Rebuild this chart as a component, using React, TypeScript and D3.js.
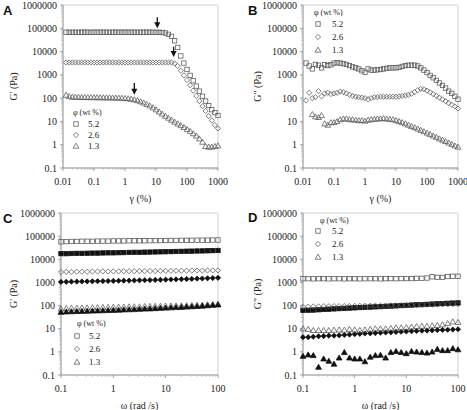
import React from 'react';
import * as d3 from 'd3';

const STRAIN = [0.0126,0.0158,0.02,0.0251,0.0316,0.0398,0.0501,0.0631,0.0794,
  0.1,0.126,0.158,0.2,0.251,0.316,0.398,0.501,0.631,0.794,
  1,1.26,1.58,2,2.51,3.16,3.98,5.01,6.31,7.94,
  10,12.6,15.8,20,25.1,31.6,39.8,50.1,63.1,79.4,
  100,126,158,200,251,316,398,501,631,794,1000];

const FREQ = [0.1,0.126,0.158,0.2,0.251,0.316,0.398,0.501,0.631,0.794,
  1,1.26,1.58,2,2.51,3.16,3.98,5.01,6.31,7.94,
  10,12.6,15.8,20,25.1,31.6,39.8,50.1,63.1,79.4,100];

// Panel A: G' vs strain
const A_52 = [68000,67000,68000,68000,67000,68000,68000,68000,67000,
  68000,68000,68000,68000,68000,67000,68000,68000,68000,68000,
  68000,68000,68000,68000,68000,68000,68000,68000,68000,68000,
  67000,67000,66000,63000,55000,45000,29000,15000,6500,3200,
  1700,950,560,330,200,120,75,48,32,24,18];
const A_26 = [3400,3400,3400,3400,3400,3400,3400,3400,3400,
  3400,3400,3400,3400,3400,3400,3400,3400,3400,3400,
  3400,3400,3400,3400,3400,3400,3400,3400,3400,3400,
  3400,3400,3400,3400,3400,3400,3100,2400,1500,950,
  600,360,210,125,75,45,28,17,11,7,5];
const A_13 = [135,118,112,110,110,108,108,107,107,
  106,106,105,105,104,104,103,102,101,100,
  98,95,91,86,79,71,63,55,47,39,
  32,26,21,17,14,11.5,9.5,8,6.7,5.6,
  4.6,3.8,3.0,2.4,1.8,1.3,0.85,0.8,0.8,0.85,0.9];
const A_ARROW_X = [11, 37, 2];
const A_ARROW_TOP = [300000, 16000, 450];
const A_ARROW_TIP = [100000, 5800, 140];

// Panel B: G'' vs strain
const B_52 = [3200,2400,1800,2800,2600,2000,2700,2500,2700,
  3200,3300,3200,3000,2800,2500,2200,2000,1800,1500,
  1300,1800,1600,1600,1650,1700,1800,1900,2000,2000,
  2000,2100,2300,2500,2600,2600,2600,2400,2000,1600,
  1250,950,750,580,450,350,270,200,160,120,90];
const B_26 = [80,170,100,110,200,120,160,170,150,
  160,170,190,180,160,140,125,115,110,105,
  100,90,100,110,110,115,115,115,115,115,
  115,120,125,130,140,155,180,220,250,240,
  210,180,150,125,105,88,74,62,52,44,36];
const B_13 = [null,null,20,16,15,18,8,7,9,
  9,10,12,13,13,12,12,11.5,11,11,
  10.5,11.5,12,12.5,13,13,13.5,13,12.5,12,
  11,10,9,8,7,6.2,5.5,4.8,4.2,3.7,
  3.2,2.8,2.4,2.1,1.8,1.6,1.4,1.2,1.05,0.9,0.8];

// Panel C: G' vs frequency
const C_52_OPEN = [57000,58000,59000,59000,60000,60000,60000,61000,61000,61000,
  62000,62000,62000,63000,63000,63000,63000,64000,64000,64000,
  65000,65000,65000,66000,66000,66000,67000,67000,67000,68000,68000];
const C_52_FILL = [17500,17500,17800,18000,18000,18200,18500,18500,18800,19000,
  19000,19300,19500,19800,20000,20000,20300,20500,20800,21000,
  21200,21500,21800,22000,22300,22500,22800,23000,23300,23700,24000];
const C_26_OPEN = [2800,2850,2850,2900,2900,2900,2950,2950,3000,3000,
  3000,3000,3050,3050,3050,3100,3100,3100,3100,3150,
  3150,3150,3200,3200,3200,3250,3250,3250,3300,3300,3300];
const C_26_FILL = [1050,1060,1080,1090,1100,1110,1120,1130,1140,1150,
  1160,1180,1190,1200,1220,1230,1250,1260,1280,1300,
  1320,1340,1360,1380,1400,1420,1450,1480,1510,1540,1580];
const C_13_OPEN = [72,76,78,79,80,80,82,83,84,85,
  86,87,88,89,90,90,92,93,94,95,
  96,97,98,100,101,102,104,106,109,112,115];
const C_13_FILL = [52,54,55,56,57,58,59,60,61,62,
  63,64,66,67,68,70,72,73,75,77,
  79,81,83,85,88,90,93,96,100,104,108];

// Panel D: G'' vs frequency
const D_52_OPEN = [1450,1450,1430,1450,1450,1430,1450,1450,1430,1450,
  1450,1430,1450,1450,1450,1430,1450,1470,1450,1470,
  1470,1470,1500,1500,1550,1750,1650,1650,1800,1850,1850];
const D_52_FILL = [62,63,64,66,68,70,72,74,76,78,
  80,82,84,86,88,90,92,95,97,100,
  102,105,108,110,113,116,119,122,125,128,130];
const D_26_OPEN = [88,90,92,92,94,94,95,95,96,96,
  97,98,98,99,100,100,101,102,103,104,
  105,106,107,108,109,110,111,112,113,114,115];
const D_26_FILL = [4.3,4.3,4.5,4.7,4.8,5,5,5.2,5.4,5.6,
  5.8,6,6.2,6.3,6.5,6.7,6.9,7,7.2,7.4,
  7.6,7.8,8,8.2,8.3,8.5,8.7,8.9,9,9.2,9.5];
const D_13_OPEN = [10,9.5,8.5,8.5,8.5,8.5,8.8,9,8.8,9.5,
  9,8.5,9,9.5,10,10,10,10.5,11,11,
  11.5,12,12.5,13,13,13.5,14,15,17,20,19];
const D_13_FILL = [0.65,0.75,0.7,0.22,0.5,0.4,0.3,0.55,0.95,0.55,
  0.5,0.5,0.38,0.6,0.7,0.72,0.55,0.95,1.05,0.95,
  0.85,1.05,1.0,0.95,0.9,1.0,1.3,1.15,1.15,1.4,1.25];

const Y_TICKS = [0.1,1,10,100,1000,10000,100000,1000000];
const Y_TICK_LABELS = ['0.1','1','10','100','1000','10000','100000','1000000'];
const STRAIN_TICKS = [0.01,0.1,1,10,100,1000];
const STRAIN_TICK_LABELS = ['0.01','0.1','1','10','100','1000'];
const FREQ_TICKS = [0.1,1,10,100];
const FREQ_TICK_LABELS = ['0.1','1','10','100'];

const LEGEND_TITLE = 'φ (wt %)';
const LEGEND_LABELS = ['5.2','2.6','1.3'];
const SHAPES = ['square','diamond','triangle'];

const SERIF = '"Liberation Serif","Times New Roman",serif';
const SANS = '"Liberation Sans",Arial,sans-serif';

function Marker({ shape, filled, x, y }) {
  const stroke = filled ? '#111' : '#555';
  const fill = filled ? '#111' : 'none';
  const sw = 0.75;
  if (shape === 'square') {
    const h = 2.2;
    return <rect x={x - h} y={y - h} width={2 * h} height={2 * h} fill={fill} stroke={stroke} strokeWidth={sw} />;
  }
  if (shape === 'diamond') {
    const r = 2.6;
    return <path d={`M${x},${y - r}L${x + r},${y}L${x},${y + r}L${x - r},${y}Z`} fill={fill} stroke={stroke} strokeWidth={sw} />;
  }
  const r = 2.9;
  return <path d={`M${x},${y - r}L${x + r},${y + r * 0.75}L${x - r},${y + r * 0.75}Z`} fill={fill} stroke={stroke} strokeWidth={sw} />;
}

function Panel({ box, xs, xDomain, xTicks, xTickLabels, series, letter, letterPos, yTitle, yTitleX, xTitle, legend, arrows }) {
  const x = d3.scaleLog().domain(xDomain).range([box.left, box.right]);
  const y = d3.scaleLog().domain([0.1, 1000000]).range([box.bottom, box.top]);
  const minorX = [];
  for (let i = 0; i < xTicks.length - 1; i++) for (let k = 2; k < 10; k++) minorX.push(xTicks[i] * k);
  const minorY = [];
  for (let i = 0; i < Y_TICKS.length - 1; i++) for (let k = 2; k < 10; k++) minorY.push(Y_TICKS[i] * k);
  const axisColor = '#8a8a8a';
  return (
    <g>
      <text x={letterPos[0]} y={letterPos[1]} fontFamily={SANS} fontWeight="bold" fontSize={13} fill="#111">{letter}</text>
      <line x1={box.left} x2={box.right} y1={box.top} y2={box.top} stroke="#cfcfcf" strokeWidth={1} />
      <line x1={box.right} x2={box.right} y1={box.top} y2={box.bottom} stroke="#cfcfcf" strokeWidth={1} />
      <line x1={box.left} x2={box.left} y1={box.top} y2={box.bottom} stroke={axisColor} strokeWidth={1} />
      <line x1={box.left} x2={box.right} y1={box.bottom} y2={box.bottom} stroke={axisColor} strokeWidth={1} />
      {minorY.map((v, i) => (
        <line key={'my' + i} x1={box.left - 2} x2={box.left} y1={y(v)} y2={y(v)} stroke="#b5b5b5" strokeWidth={0.7} />
      ))}
      {minorX.map((v, i) => (
        <line key={'mx' + i} x1={x(v)} x2={x(v)} y1={box.bottom} y2={box.bottom + 2} stroke="#b5b5b5" strokeWidth={0.7} />
      ))}
      {Y_TICKS.map((v, i) => (
        <g key={'yt' + i}>
          <line x1={box.left - 3} x2={box.left} y1={y(v)} y2={y(v)} stroke={axisColor} strokeWidth={0.8} />
          <text x={box.left - 6} y={y(v)} dy="0.35em" textAnchor="end" fontFamily={SERIF} fontSize={10} fill="#222">{Y_TICK_LABELS[i]}</text>
        </g>
      ))}
      {xTicks.map((v, i) => (
        <g key={'xt' + i}>
          <line x1={x(v)} x2={x(v)} y1={box.bottom} y2={box.bottom + 3} stroke={axisColor} strokeWidth={0.8} />
          <text x={x(v)} y={box.bottom + 17} textAnchor="middle" fontFamily={SERIF} fontSize={10} fill="#222">{xTickLabels[i]}</text>
        </g>
      ))}
      <text transform={`translate(${yTitleX},${(box.top + box.bottom) / 2}) rotate(-90)`} textAnchor="middle" dy="0.35em" fontFamily={SERIF} fontSize={10} fill="#222">{yTitle}</text>
      <text x={(box.left + box.right) / 2} y={box.bottom + 34} textAnchor="middle" fontFamily={SERIF} fontSize={10} fill="#222">{xTitle}</text>
      {series.map((s, si) => (
        <g key={'s' + si}>
          {s.values.map((v, i) => (v == null ? null : (
            <Marker key={i} shape={s.shape} filled={s.filled} x={x(xs[i])} y={y(v)} />
          )))}
        </g>
      ))}
      {arrows && arrows.x.map((ax, i) => {
        const px = x(ax);
        const top = y(arrows.top[i]);
        const tip = y(arrows.tip[i]);
        return (
          <g key={'a' + i}>
            <line x1={px} x2={px} y1={top} y2={tip - 5} stroke="#111" strokeWidth={1.3} />
            <path d={`M${px - 3},${tip - 6}L${px + 3},${tip - 6}L${px},${tip}Z`} fill="#111" />
          </g>
        );
      })}
      <text x={legend.titleX} y={legend.titleY} dy="0.35em" fontFamily={SERIF} fontSize={8} fill="#222">{LEGEND_TITLE}</text>
      {LEGEND_LABELS.map((lab, i) => (
        <g key={'lg' + i}>
          <Marker shape={SHAPES[i]} filled={false} x={legend.markerX} y={legend.rows[i]} />
          <text x={legend.labelX} y={legend.rows[i]} dy="0.35em" fontFamily={SERIF} fontSize={9} fill="#222">{lab}</text>
        </g>
      ))}
    </g>
  );
}

export default function App() {
  const boxA = { left: 63, right: 218, top: 5, bottom: 168 };
  const boxB = { left: 303, right: 458, top: 5, bottom: 168 };
  const boxC = { left: 61, right: 218, top: 213, bottom: 375 };
  const boxD = { left: 303, right: 458, top: 213, bottom: 375 };
  return (
    <div style={{ position: 'absolute', left: 0, top: 0 }}>
      <svg width={467} height={410} style={{ display: 'block', background: '#fff' }}>
        <Panel box={boxA} xs={STRAIN} xDomain={[0.01, 1000]} xTicks={STRAIN_TICKS} xTickLabels={STRAIN_TICK_LABELS}
          series={[
            { values: A_52, shape: 'square', filled: false },
            { values: A_26, shape: 'diamond', filled: false },
            { values: A_13, shape: 'triangle', filled: false },
          ]}
          letter="A" letterPos={[3, 15]} yTitle="G' (Pa)" yTitleX={13} xTitle="γ (%)"
          legend={{ titleX: 73, titleY: 112, markerX: 76, rows: [124, 135, 146], labelX: 88 }}
          arrows={{ x: A_ARROW_X, top: A_ARROW_TOP, tip: A_ARROW_TIP }} />
        <Panel box={boxB} xs={STRAIN} xDomain={[0.01, 1000]} xTicks={STRAIN_TICKS} xTickLabels={STRAIN_TICK_LABELS}
          series={[
            { values: B_52, shape: 'square', filled: false },
            { values: B_26, shape: 'diamond', filled: false },
            { values: B_13, shape: 'triangle', filled: false },
          ]}
          letter="B" letterPos={[248, 15]} yTitle={'G" (Pa)'} yTitleX={257} xTitle="γ (%)"
          legend={{ titleX: 314, titleY: 12, markerX: 318, rows: [24, 37, 50], labelX: 332 }} />
        <Panel box={boxC} xs={FREQ} xDomain={[0.1, 100]} xTicks={FREQ_TICKS} xTickLabels={FREQ_TICK_LABELS}
          series={[
            { values: C_52_OPEN, shape: 'square', filled: false },
            { values: C_52_FILL, shape: 'square', filled: true },
            { values: C_26_OPEN, shape: 'diamond', filled: false },
            { values: C_26_FILL, shape: 'diamond', filled: true },
            { values: C_13_OPEN, shape: 'triangle', filled: false },
            { values: C_13_FILL, shape: 'triangle', filled: true },
          ]}
          letter="C" letterPos={[3, 223]} yTitle="G' (Pa)" yTitleX={13} xTitle="ω (rad /s)"
          legend={{ titleX: 77, titleY: 323, markerX: 77, rows: [336, 349, 362], labelX: 89 }} />
        <Panel box={boxD} xs={FREQ} xDomain={[0.1, 100]} xTicks={FREQ_TICKS} xTickLabels={FREQ_TICK_LABELS}
          series={[
            { values: D_52_OPEN, shape: 'square', filled: false },
            { values: D_52_FILL, shape: 'square', filled: true },
            { values: D_26_OPEN, shape: 'diamond', filled: false },
            { values: D_26_FILL, shape: 'diamond', filled: true },
            { values: D_13_OPEN, shape: 'triangle', filled: false },
            { values: D_13_FILL, shape: 'triangle', filled: true },
          ]}
          letter="D" letterPos={[248, 222]} yTitle={'G" (Pa)'} yTitleX={257} xTitle="ω (rad /s)"
          legend={{ titleX: 320, titleY: 220, markerX: 318, rows: [231, 244, 257], labelX: 332 }} />
      </svg>
    </div>
  );
}
